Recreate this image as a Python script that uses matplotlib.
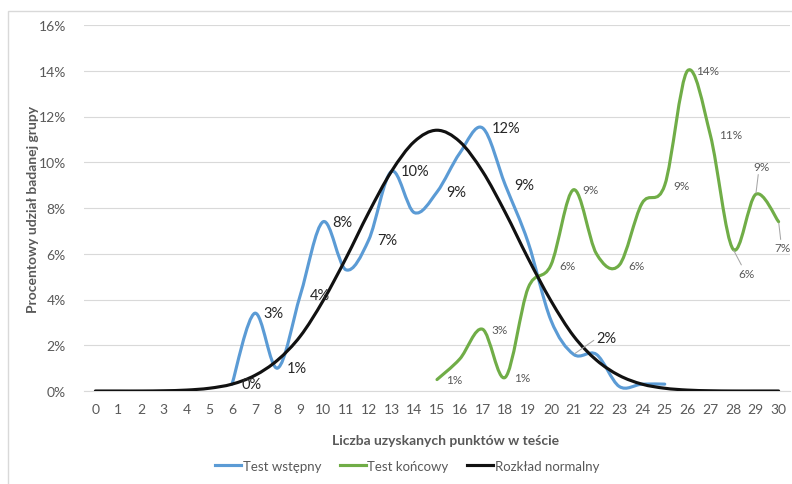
import numpy as np
import matplotlib.pyplot as plt
from matplotlib.path import Path
from matplotlib.patches import PathPatch, Rectangle
from matplotlib.lines import Line2D

plt.rcParams['font.family'] = ['Lato', 'DejaVu Sans']

points = list(range(0, 31))

# Test wstepny (pre-test), % of group
pre_x = list(range(6, 26))
pre_vals = [0.3, 3.4, 1.0, 4.2, 7.4, 5.3, 6.6, 9.6, 7.8, 8.7,
            10.4, 11.5, 9.0, 6.5, 3.1, 1.6, 1.6, 0.2, 0.3, 0.3]
pre_labels = ["0%", "3%", "1%", "4%", "8%", None, "7%", "10%", None, "9%",
              None, "12%", "9%", None, None, "2%", None, None, None, None]

# Test koncowy (post-test)
post_x = list(range(15, 31))
post_vals = [0.5, 1.4, 2.7, 0.6, 4.5, 5.5, 8.8, 6.0, 5.5, 8.2,
             9.0, 14.0, 11.2, 6.2, 8.6, 7.4]
post_labels = ["1%", None, "3%", "1%", None, "6%", "9%", None, "6%", None,
               "9%", "14%", "11%", "6%", "9%", "7%"]

# Rozklad normalny
norm_vals = [0.0, 0.0, 0.0, 0.01, 0.04, 0.12, 0.3, 0.68, 1.35, 2.4, 3.95,
             5.8, 7.8, 9.6, 10.9, 11.4, 10.9, 9.6, 7.8, 5.8, 3.95,
             2.4, 1.35, 0.68, 0.3, 0.12, 0.04, 0.01, 0.0, 0.0, 0.0]

BLUE = "#5B9BD5"
GREEN = "#70AD47"
BLACK = "#111111"
GRID = "#D9D9D9"
TXT = "#595959"


def smooth_path(xs, ys):
    # excel-like smoothed line: catmull-rom as cubic beziers
    p = np.column_stack([xs, ys]).astype(float)
    n = len(p)
    verts = [p[0]]
    codes = [Path.MOVETO]
    for i in range(n - 1):
        p0 = p[i - 1] if i > 0 else p[i]
        p3 = p[i + 2] if i + 2 < n else p[i + 1]
        c1 = p[i] + (p[i + 1] - p0) / 6
        c2 = p[i + 1] - (p3 - p[i]) / 6
        verts += [c1, c2, p[i + 1]]
        codes += [Path.CURVE4] * 3
    return Path(verts, codes)


fig = plt.figure(figsize=(7.92, 4.85), dpi=100)
ax = fig.add_axes([84 / 792, 93 / 485, 706 / 792, 366 / 485])

for xs, ys, col in [(pre_x, pre_vals, BLUE), (post_x, post_vals, GREEN),
                    (points, norm_vals, BLACK)]:
    ax.add_patch(PathPatch(smooth_path(xs, ys), fill=False, edgecolor=col,
                           lw=2.25, capstyle='round', joinstyle='round', zorder=3))

ax.set_xlim(-0.5, 30.5)
ax.set_ylim(0, 16)
ax.set_xticks(points)
ax.set_yticks(range(0, 17, 2))
ax.set_yticklabels([f"{v}%" for v in range(0, 17, 2)])
ax.tick_params(length=0, labelsize=10, colors=TXT)
ax.tick_params(axis='x', pad=9)
ax.tick_params(axis='y', pad=13)
ax.grid(axis='y', color=GRID, lw=0.8)
ax.set_axisbelow(True)
for s in ['top', 'right', 'left']:
    ax.spines[s].set_visible(False)
ax.spines['bottom'].set_color(GRID)
ax.spines['bottom'].set_linewidth(0.8)

# data labels
leaders = {("pre", 21): (33, 16, (0, 0.5)),
           ("post", 28): (13, -24, (0.3, 1)),
           ("post", 29): (6, 28, (0.3, 0)),
           ("post", 30): (4, -26, (0.4, 1))}

for name, xs, ys, labs, size, col in [("pre", pre_x, pre_vals, pre_labels, 10.5, "#262626"),
                                      ("post", post_x, post_vals, post_labels, 8.5, TXT)]:
    for x, y, lab in zip(xs, ys, labs):
        if lab is None:
            continue
        if (name, x) in leaders:
            dx, dy, rp = leaders[(name, x)]
            ax.annotate(lab, (x, y), xytext=(dx, dy), textcoords='offset pixels',
                        ha='center', va='center', fontsize=size, color=col,
                        annotation_clip=False, zorder=5,
                        arrowprops=dict(arrowstyle='-', color="#A6A6A6", lw=0.75,
                                        shrinkA=0, shrinkB=1, relpos=rp))
        else:
            ax.annotate(lab, (x, y), xytext=(9, 0), textcoords='offset pixels',
                        ha='left', va='center', fontsize=size, color=col, zorder=5)

fig.text(446 / 792, 44 / 485, "Liczba uzyskanych punktów w teście",
         ha='center', va='center', fontsize=10, fontweight='bold', color=TXT)
fig.text(33 / 792, 276 / 485, "Procentowy udział badanej grupy", rotation=90,
         ha='center', va='center', fontsize=10, fontweight='bold', color=TXT)

handles = [Line2D([], [], color=BLUE, lw=2.25),
           Line2D([], [], color=GREEN, lw=2.25),
           Line2D([], [], color=BLACK, lw=2.25)]
fig.legend(handles, ["Test wstępny", "Test końcowy", "Rozkład normalny"],
           loc='center', bbox_to_anchor=(407 / 792, 18 / 485), ncol=3,
           frameon=False, fontsize=9.5, handlelength=2.0, handletextpad=0.1,
           columnspacing=1.4, labelcolor=TXT)

fig.add_artist(Rectangle((7.5 / 792, -0.1), 1.2, (485 - 11.5) / 485 + 0.1,
                         transform=fig.transFigure, fill=False,
                         edgecolor=GRID, lw=1))

fig.savefig("out.png", dpi=100)
